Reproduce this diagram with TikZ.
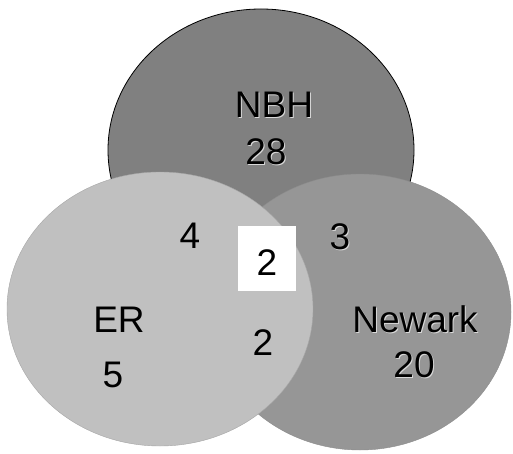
\documentclass[tikz,border=0pt]{standalone}
\usepackage{fontspec}
\setmainfont{Liberation Sans}
\usetikzlibrary{shapes.geometric}
\definecolor{nbhgray}{RGB}{128,128,128}
\definecolor{newarkgray}{RGB}{150,150,150}
\definecolor{ergray}{RGB}{192,192,192}
\begin{document}
\begin{tikzpicture}[x=1pt,y=-1pt,
  setbox/.style={ellipse, inner sep=0pt},
  lbl/.style={anchor=base, inner sep=0pt, font=\fontsize{37}{40}\selectfont},
  shadowed/.style={lbl}]
\useasboundingbox (0,0) rectangle (513,454);
\node[setbox, fill=nbhgray, draw=black, line width=0.8pt, minimum width=306pt, minimum height=282pt] (nbh) at (261,150) {};
\node[setbox, fill=newarkgray, draw=black!45, line width=0.4pt, minimum width=302pt, minimum height=276pt] (newark) at (360,312) {};
\node[setbox, fill=ergray, draw=black!35, line width=0.4pt, minimum width=306pt, minimum height=274pt] (er) at (160,309) {};
\node[fill=white, minimum width=58pt, minimum height=65pt, inner sep=0pt] (box) at (267,258.5) {};
% shadows
\begin{scope}[black!25]
\node[lbl, text=white!70!gray] (nbhs) at (275,119) {NBH};
\node[lbl, text=white!70!gray] (n28s) at (267,166) {28};
\node[lbl, text=white!70!gray] (news) at (416,333) {Newark};
\node[lbl, text=white!70!gray] (n20s) at (415,378) {20};
\node[lbl, text=white!70!gray] (n3s) at (341,250) {3};
\end{scope}
\node[lbl] (nbht) at (274,118) {NBH};
\node[lbl] (n28) at (266,165) {28};
\node[lbl] (ert) at (119,332) {ER};
\node[lbl] (n5) at (113,387) {5};
\node[lbl] (n4) at (190,248) {4};
\node[lbl] (nbox) at (267,275) {2};
\node[lbl] (n3) at (340,249) {3};
\node[lbl] (n2) at (263,355) {2};
\node[lbl] (newt) at (415,332) {Newark};
\node[lbl] (n20) at (414,377) {20};
\end{tikzpicture}
\end{document}
